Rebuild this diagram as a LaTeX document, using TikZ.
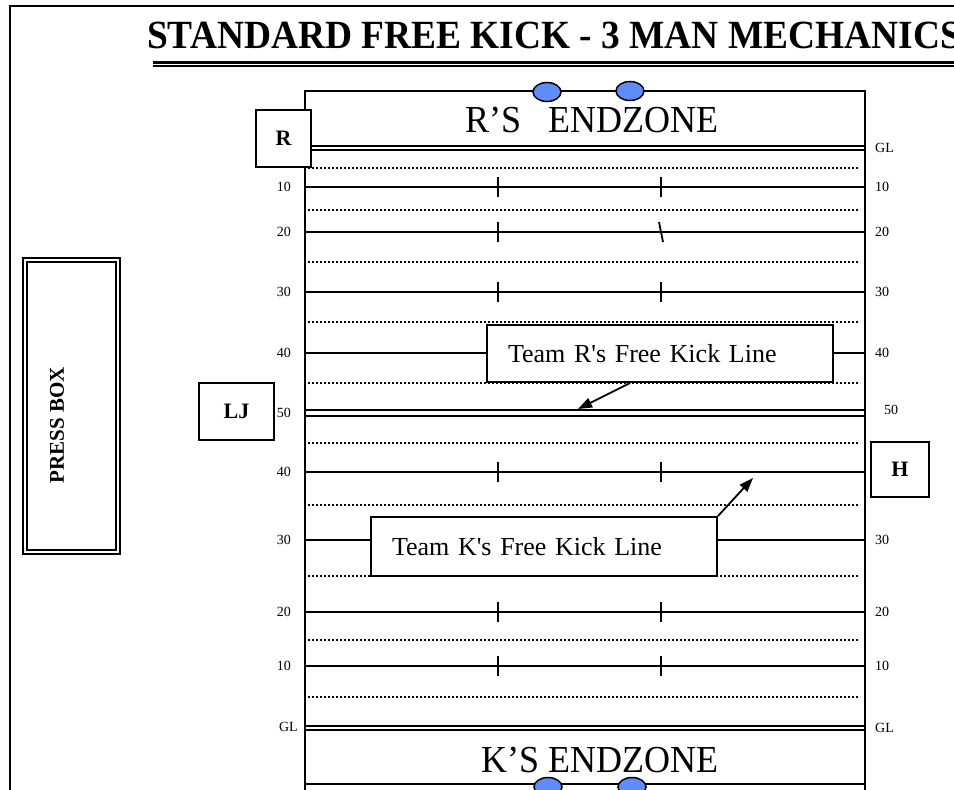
\documentclass[tikz,border=0pt]{standalone}
\usepackage{fontspec}
\setmainfont{Liberation Serif}
\usetikzlibrary{positioning,arrows.meta,shapes.geometric}
\definecolor{playerblue}{RGB}{95,140,250}

\begin{document}
\begin{tikzpicture}[x=1pt,y=-1pt,>={Triangle[length=14pt,width=10pt]},
  yardline/.style={line width=2pt},
  halfline/.style={line width=1.8pt,dash pattern=on 1.8pt off 2.2pt},
  hashmark/.style={line width=1.8pt},
  yardnum/.style={font=\fontsize{14}{15}\selectfont,inner sep=0pt},
  offbox/.style={draw,line width=2pt,fill=white,inner sep=0pt,
    font=\bfseries\fontsize{22}{24}\selectfont},
  kickbox/.style={draw,line width=2pt,fill=white,text width=304pt,
    inner xsep=21pt,minimum height=57pt,align=left,
    font=\fontsize{26}{28}\selectfont},
  player/.style={ellipse,draw,line width=1.5pt,fill=playerblue,
    minimum width=28pt,minimum height=19pt,inner sep=0pt}]
  \clip (0,0) rectangle (954,790);
  \fill[white] (0,0) rectangle (954,790);
  % page frame
  \draw[line width=2pt] (10,790) -- (10,6) -- (954,6);
  % title
  \node[anchor=west,inner sep=0pt,xscale=0.935,
    font=\bfseries\fontsize{40}{42}\selectfont]
    (title) at (147,35) {STANDARD FREE KICK - 3 MAN MECHANICS};
  \draw[line width=3pt] (153,62) -- (954,62);
  \draw[line width=1.2pt] (153,66) -- (954,66);
  % field outline
  \draw[line width=2.2pt] (305,790) -- (305,91) -- (865,91) -- (865,790);
  \draw[line width=2.2pt] (305,784) -- (865,784);
  % goal lines and midfield
  \foreach \y in {146,150,725.5,730,410,415.5}
    \draw[line width=2pt] (305,\y) -- (865,\y);
  % yard lines
  \foreach \y in {187,232,292,353,472,540,612,666}
    \draw[yardline] (305,\y) -- (865,\y);
  \foreach \y in {168,210,262,322,383,443,505,576,640,697}
    \draw[halfline] (308,\y) -- (860,\y);
  % hash marks
  \foreach \y in {187,292,472,612,666} {
    \draw[hashmark] (498,\y-10) -- (498,\y+10);
    \draw[hashmark] (661,\y-10) -- (661,\y+10);
  }
  \draw[hashmark] (498,222) -- (498,242);
  \draw[hashmark] (659,222) -- (663,242);
  % yard numbers
  \foreach \y/\t in {187/10,232/20,292/30,353/40,413/50,472/40,540/30,612/20,666/10}
    \node[yardnum,anchor=east] (left\y) at (291,\y) {\t};
  \node[yardnum,anchor=east] (leftgl) at (298,727) {GL};
  \foreach \y/\t in {148/GL,187/10,232/20,292/30,353/40,540/30,612/20,666/10,728/GL}
    \node[yardnum,anchor=west] (right\y) at (875,\y) {\t};
  \node[yardnum,anchor=west] (right410) at (884,410) {50};
  % end zones
  \node[font=\fontsize{36}{38}\selectfont,inner sep=0pt,yscale=1.06]
    (rzone) at (592,120) {R’S\ \ \ ENDZONE};
  \node[font=\fontsize{36}{38}\selectfont,inner sep=0pt,yscale=1.06]
    (kzone) at (600,760) {K’S ENDZONE};
  % players
  \node[player] (rp1) at (547,92) {};
  \node[player] (rp2) at (630,91) {};
  \node[player] (kp1) at (548,787) {};
  \node[player] (kp2) at (632,787) {};
  % officials
  \node[offbox,minimum width=55pt,minimum height=57pt] (ref) at (283.5,138.5) {R};
  \node[offbox,minimum width=75pt,minimum height=57pt] (lj) at (236.5,411.5) {LJ};
  \node[offbox,minimum width=58pt,minimum height=55pt] (hl) at (900,469.5) {H};
  % press box
  \node[draw,line width=1.6pt,double,double distance=2.2pt,rotate=90,
    minimum width=292pt,minimum height=93pt] (pressbox) at (71.5,406) {};
  \node[rotate=90,inner sep=0pt,font=\bfseries\fontsize{21}{22}\selectfont]
    (presslabel) at (57,425) {PRESS BOX};
  % free kick lines
  \node[kickbox] (rkick) at (660,353.5) {Team R\textquotesingle s Free Kick Line};
  \node[kickbox,minimum height=59pt] (kkick) at (544,546.5) {Team K\textquotesingle s Free Kick Line};
  \coordinate (rtip) at (578,409);
  \coordinate (ktip) at (753,478);
  \draw[->,line width=1.8pt] ([xshift=-30pt]rkick.south) -- (rtip);
  \draw[->,line width=1.8pt] (kkick.north east) -- (ktip);
\end{tikzpicture}
\end{document}
